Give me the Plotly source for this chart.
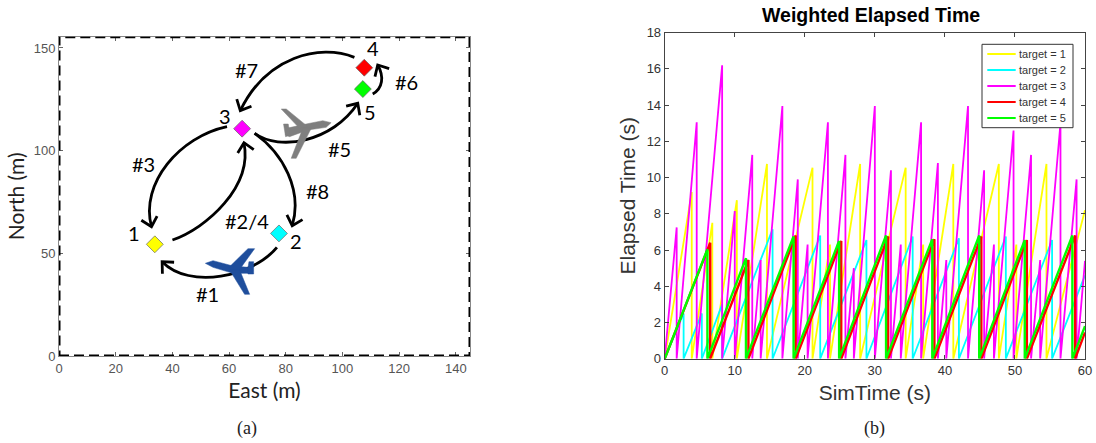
import math
import plotly.graph_objects as go

W, H = 1096, 443
# Panel (b) data: sawtooth peaks (time, elapsed)
t1_x = [3.86, 6.8, 10.3, 14.6, 21.1, 23.6, 27.9, 34.4, 36.9, 41.2, 47.7, 50.2, 54.5, 60]
t1_y = [9.2, 7.5, 8.75, 10.75, 10.55, 6.3, 10.75, 10.55, 6.3, 10.75, 10.75, 6.3, 10.75, 8.2]
t2_x = [2.7, 5.3, 8.2, 15.4, 22.2, 28.8, 35.4, 42.0, 48.7, 55.3, 60]
t2_y = [2.5, 2.5, 3.0, 7.15, 6.8, 6.55, 6.75, 6.65, 6.75, 6.55, 4.6]
t3_x = [1.71, 4.57, 8.2, 10.0, 12.5, 13.7, 16.8, 19.0, 20.4, 23.3, 25.8, 27.0, 30.0, 32.3,
        33.7, 36.6, 39.0, 40.2, 43.3, 45.6, 47.0, 49.8, 52.3, 53.6, 56.5, 58.8, 60]
t3_y = [7.25, 13.05, 16.2, 8.15, 11.25, 5.45, 13.95, 9.9, 6.3, 13.05, 11.25, 5.0, 13.95, 10.4,
        6.3, 13.05, 10.8, 5.45, 13.95, 10.4, 6.3, 12.6, 11.25, 5.45, 13.0, 9.9, 5.4]
t4_x = [6.5, 11.95, 18.7, 25.2, 31.9, 38.5, 45.2, 51.7, 58.6, 60]
t4_y = [6.4, 5.45, 6.8, 6.5, 6.75, 6.6, 6.75, 6.55, 6.8, 1.45]
t5_x = [6.1, 11.6, 18.4, 24.9, 31.6, 38.2, 44.9, 51.4, 58.2, 60]
t5_y = [6.05, 5.55, 6.75, 6.5, 6.8, 6.6, 6.8, 6.55, 6.8, 1.8]
series_names = ["target = 1", "target = 2", "target = 3", "target = 4", "target = 5"]
series_colors = ["#ffff00", "#00ffff", "#ff00ff", "#ff0000", "#00ff00"]

# Panel (a) data
wp_east = [33.8, 77.6, 64.6, 107.7, 107.2]
wp_north = [54.4, 59.7, 110.7, 140.4, 130.0]
wp_labels = ["1", "2", "3", "4", "5"]


def saw(px, py):
    xs, ys = [0], [0]
    for a, b in zip(px, py):
        xs += [a, a]
        ys += [b, 0]
    return xs[:-1], ys[:-1]


def dom(a, b, size):
    return [a / size, b / size]


def Xa(zx):  # crop px -> east
    return (zx - 177) / 8.52


def Ya(zy):  # crop px -> north
    return (1008 - zy) / 6.16


fig = go.Figure()
fig.add_trace(go.Scatter(x=wp_east, y=wp_north, mode="markers", showlegend=False,
                         marker=dict(symbol="diamond", size=13, color=series_colors,
                                     line=dict(color="#666666", width=0.7)),
                         xaxis="x", yaxis="y"))
series = [(t1_x, t1_y), (t2_x, t2_y), (t3_x, t3_y), (t4_x, t4_y), (t5_x, t5_y)]
widths = [1.8, 1.8, 1.8, 2.4, 2.4]
for (px, py), n, c, w in zip(series, series_names, series_colors, widths):
    xs, ys = saw(px, py)
    fig.add_trace(go.Scatter(x=xs, y=ys, mode="lines", name=n, showlegend=False,
                             line=dict(color=c, width=w), xaxis="x2", yaxis="y2"))

shapes = []
# curved route arrows (start, c1, c2, end) measured on the picture
routes = [
    ((832, 682), (760, 770), (570, 810), (487, 725)),
    ((518, 660), (620, 625), (760, 500), (733, 368)),
    ((682, 320), (540, 350), (420, 490), (455, 620)),
    ((765, 340), (840, 395), (1000, 365), (1075, 250)),
    ((1120, 222), (1150, 205), (1155, 170), (1135, 135)),
    ((1065, 112), (960, 70), (800, 110), (722, 272)),
    ((765, 340), (850, 400), (910, 510), (878, 617)),
]
for s, c1, c2, e in routes:
    d = (f"M {Xa(s[0])} {Ya(s[1])} C {Xa(c1[0])} {Ya(c1[1])} {Xa(c2[0])} {Ya(c2[1])} "
         f"{Xa(e[0])} {Ya(e[1])}")
    shapes.append(dict(type="path", path=d, xref="x", yref="y",
                       line=dict(color="black", width=2.8), layer="above"))
    ang = math.atan2(e[1] - c2[1], e[0] - c2[0])
    pts = []
    for da in (0.75, -0.75):
        pts.append((e[0] - 36 * math.cos(ang + da), e[1] - 36 * math.sin(ang + da)))
    d = (f"M {Xa(pts[0][0])} {Ya(pts[0][1])} L {Xa(e[0])} {Ya(e[1])} "
         f"L {Xa(pts[1][0])} {Ya(pts[1][1])}")
    shapes.append(dict(type="path", path=d, xref="x", yref="y",
                       line=dict(color="black", width=2.8), layer="above"))


def poly(pts, color):
    d = "M " + " L ".join(f"{Xa(a)} {Ya(b)}" for a, b in pts) + " Z"
    shapes.append(dict(type="path", path=d, xref="x", yref="y", fillcolor=color,
                       line=dict(color=color, width=0.5), layer="above"))


# aircraft silhouettes
blue = "#1f4e9c"
poly([(617, 730), (640, 722), (700, 738), (745, 742), (760, 750), (755, 760), (700, 760), (640, 742)], blue)
poly([(765, 686), (745, 686), (685, 745), (715, 755)], blue)
poly([(690, 750), (735, 823), (750, 823), (720, 750)], blue)
poly([(745, 745), (748, 725), (762, 725), (762, 762), (745, 762)], blue)
gray = "#7f7f7f"
poly([(995, 308), (980, 322), (925, 330), (870, 350), (858, 345), (860, 325), (920, 312), (970, 302)], gray)
poly([(845, 267), (860, 267), (925, 320), (900, 325)], gray)
poly([(910, 325), (935, 325), (890, 415), (875, 415)], gray)
poly([(852, 312), (866, 312), (872, 345), (858, 350)], gray)

# dashed frame of panel (a)
shapes.append(dict(type="rect", xref="x", yref="y", x0=0, x1=145, y0=0, y1=155.5,
                   line=dict(color="black", width=3, dash="10px,5px"), layer="above"))


def note(zx, zy, text, size=20):
    return dict(x=Xa(zx), y=Ya(zy), xref="x", yref="y", text=text, showarrow=False,
                xanchor="center", yanchor="middle",
                font=dict(family="Lato", size=size, color="black"))


annotations = [note(*a) for a in [
    (402, 640, "1"), (890, 664, "2"), (675, 287, "3"), (1120, 85, "4"), (1113, 276, "5"),
    (622, 822, "#1"), (743, 604, "#2/4"), (432, 432, "#3"), (1021, 386, "#5"),
    (1223, 186, "#6"), (741, 150, "#7"), (953, 513, "#8"),
]]


def cap(x, y, text, font, xanchor="center"):
    return dict(x=x / W, y=1 - y / H, xref="paper", yref="paper", text=text, showarrow=False,
                xanchor=xanchor, yanchor="middle", font=font)


serif = dict(family="Liberation Serif", size=18, color="#222222")
annotations += [
    cap(247, 428, "(a)", serif),
    cap(874, 428, "(b)", serif),
    cap(871, 15, "<b>Weighted Elapsed Time</b>", dict(family="Liberation Sans", size=19.5, color="black")),
]

# legend box, matching the reference's tight rows
legend_rows = [54, 70, 86, 102, 118]
shapes.append(dict(type="rect", xref="paper", yref="paper", x0=982 / W, x1=1073 / W,
                   y0=1 - 127.7 / H, y1=1 - 44.3 / H, fillcolor="white",
                   line=dict(color="#333333", width=1), layer="above"))
for ry, n, c in zip(legend_rows, series_names, series_colors):
    shapes.append(dict(type="line", xref="paper", yref="paper", x0=987.3 / W, x1=1015.7 / W,
                       y0=1 - ry / H, y1=1 - ry / H, line=dict(color=c, width=2), layer="above"))
    annotations.append(cap(1017, ry, n, dict(family="Liberation Sans", size=11, color="#333333"),
                           xanchor="left"))

ax = dict(showgrid=False, zeroline=False, ticks="inside", ticklen=4, mirror="ticks", showline=True,
          tickfont=dict(family="Liberation Sans", size=13, color="#555555"))
ax_b = {**ax, "linecolor": "#444444", "tickcolor": "#444444",
        "tickfont": dict(family="Liberation Sans", size=13, color="#333333")}
ax_a = {**ax, "linecolor": "#888888", "tickcolor": "#666666"}
lato = dict(family="Lato", size=21, color="#222222")
sans = dict(family="Liberation Sans", size=21, color="#333333")

fig.update_layout(
    width=W, height=H, margin=dict(l=0, r=0, t=0, b=0, autoexpand=False), autosize=False,
    showlegend=False,
    paper_bgcolor="white", plot_bgcolor="white", shapes=shapes, annotations=annotations,
    xaxis=dict(**ax_a, domain=dom(59, 470, W), range=[0, 145], tickvals=list(range(0, 141, 20)),
               anchor="y", title=dict(text="East (m)", font=lato, standoff=8)),
    yaxis=dict(**ax_a, domain=[1 - 356 / H, 1 - 36.7 / H], range=[0, 155.5], tickvals=[0, 50, 100, 150],
               anchor="x", title=dict(text="North (m)", font=lato, standoff=3)),
    xaxis2=dict(**ax_b, domain=dom(664.7, 1085, W), range=[0, 60], tickvals=list(range(0, 61, 10)),
                anchor="y2", title=dict(text="SimTime (s)", font=sans, standoff=8)),
    yaxis2=dict(**ax_b, domain=[1 - 358.7 / H, 1 - 32.7 / H], range=[0, 18], tickvals=list(range(0, 19, 2)),
                anchor="x2", title=dict(text="Elapsed Time (s)", font=sans, standoff=5)),
)
fig.write_html("out.html", config={"displayModeBar": False},
               post_script="document.body.style.margin='0';")
